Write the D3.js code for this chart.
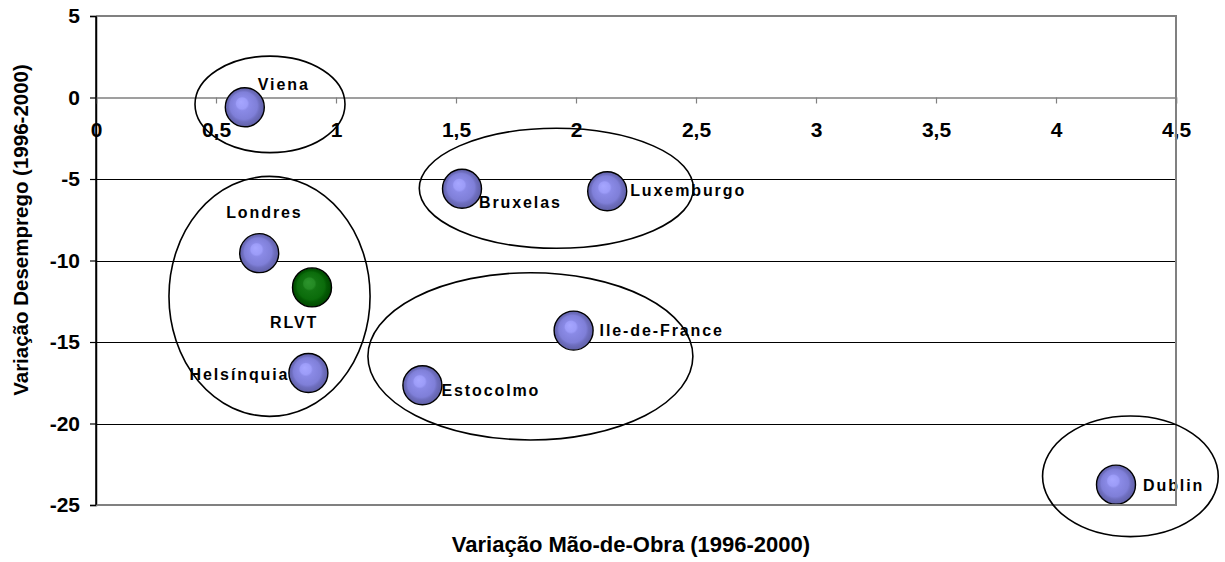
<!DOCTYPE html>
<html>
<head>
<meta charset="utf-8">
<script src="https://cdn.jsdelivr.net/npm/d3@7"></script>
<style>
  html, body { margin: 0; padding: 0; background: #fff; }
  svg { display: block; }
  text { font-family: Arial, "Liberation Sans", sans-serif; font-weight: bold; fill: #000; }
</style>
</head>
<body>
<svg id="chart" width="1225" height="562"></svg>
<script>
// Regions and their changes 1996-2000
const regions = ["Viena", "Londres", "RLVT", "Helsínquia", "Bruxelas", "Luxemburgo", "Ile-de-France", "Estocolmo", "Dublin"];
const labourChange = [0.62, 0.68, 0.90, 0.885, 1.525, 2.13, 1.99, 1.36, 4.25];
const unemploymentChange = [-0.6, -9.55, -11.65, -16.9, -5.6, -5.75, -14.3, -17.65, -23.75];
const highlighted = ["RLVT"];

// Axis ticks
const xTicks = [0, 0.5, 1, 1.5, 2, 2.5, 3, 3.5, 4, 4.5];
const yTicks = [5, 0, -5, -10, -15, -20, -25];

// Cluster outlines (centre and half-extent, in data units)
const clusterCx = [0.725, 0.723, 1.918, 1.81, 4.31];
const clusterCy = [-0.42, -12.2, -5.57, -15.88, -23.24];
const clusterRx = [0.3125, 0.419, 0.571, 0.677, 0.366];
const clusterRy = [2.96, 7.36, 3.68, 5.13, 3.70];

const xTitle = "Variação Mão-de-Obra (1996-2000)";
const yTitle = "Variação Desemprego (1996-2000)";

const svg = d3.select("#chart");
const plot = { left: 96, right: 1176, top: 16, bottom: 505 };

const x = d3.scaleLinear().domain([0, 4.5]).range([plot.left, plot.right]);
const y = d3.scaleLinear().domain([-25, 5]).range([plot.bottom, plot.top]);
const fmt = d => String(d).replace(".", ",");
const FONT = "Arial, 'Liberation Sans', sans-serif";

// Bubble gradients
const defs = svg.append("defs");
function bubbleGradient(id, stops) {
  const g = defs.append("radialGradient").attr("id", id)
    .attr("cx", "50%").attr("cy", "50%").attr("r", "50%")
    .attr("fx", "40%").attr("fy", "36%");
  stops.forEach(s => g.append("stop").attr("offset", s[0]).attr("stop-color", s[1]));
}
bubbleGradient("blueBall", [["0%", "#a6a6ff"], ["28%", "#9c9cf8"], ["36%", "#8a8ae6"], ["70%", "#7f7fd8"], ["80%", "#6f6fc0"], ["100%", "#6060a6"]]);
bubbleGradient("greenBall", [["0%", "#2c942c"], ["28%", "#248a24"], ["36%", "#137513"], ["70%", "#0b6c0b"], ["80%", "#045a04"], ["100%", "#004800"]]);

// Horizontal gridlines
svg.append("g").selectAll("line")
  .data(yTicks.filter(d => d !== 0 && d !== 5 && d !== -25))
  .join("line")
  .attr("x1", plot.left).attr("x2", plot.right)
  .attr("y1", d => Math.round(y(d)) + 0.5).attr("y2", d => Math.round(y(d)) + 0.5)
  .attr("stroke", "#000").attr("stroke-width", 1);

function styleTickText(sel) {
  sel.style("font-size", "21px").style("font-family", FONT).style("font-weight", "bold")
    .attr("fill", "#000");
}

// Y axis
const yAxis = svg.append("g").attr("transform", `translate(${plot.left},0)`)
  .call(d3.axisLeft(y).tickValues(yTicks).tickSize(6).tickPadding(10).tickFormat(fmt));
yAxis.select(".domain").attr("stroke", "#000").attr("stroke-width", 1.5);
yAxis.selectAll(".tick line").attr("stroke", "#000").attr("stroke-width", 1.2);
yAxis.selectAll(".tick text").call(styleTickText);

// X axis along zero
const xAxis = svg.append("g").attr("transform", `translate(0,${y(0)})`)
  .call(d3.axisBottom(x).tickValues(xTicks).tickSize(6).tickPadding(18.5).tickFormat(fmt));
xAxis.select(".domain").attr("stroke", "#808080").attr("stroke-width", 1.5);
xAxis.selectAll(".tick line").attr("stroke", "#808080").attr("stroke-width", 1.2);
xAxis.selectAll(".tick text").call(styleTickText);

// Bubbles
const pts = regions.map((r, i) => ({ name: r, lx: labourChange[i], uy: unemploymentChange[i] }));
svg.append("g").selectAll("circle")
  .data(pts).join("circle")
  .attr("cx", d => x(d.lx)).attr("cy", d => y(d.uy)).attr("r", 19.5)
  .attr("fill", d => highlighted.includes(d.name) ? "url(#greenBall)" : "url(#blueBall)")
  .attr("stroke", "#000").attr("stroke-width", 1.4);

// Label placement next to each bubble
const labelPlace = {
  "Viena": [13, -17, "start"],
  "Londres": [-33, -35, "start"],
  "RLVT": [-42, 41, "start"],
  "Helsínquia": [-19, 7, "end"],
  "Bruxelas": [17, 19, "start"],
  "Luxemburgo": [23, 5, "start"],
  "Ile-de-France": [26, 5, "start"],
  "Estocolmo": [19, 11, "start"],
  "Dublin": [27, 6, "start"]
};
svg.append("g").selectAll("text")
  .data(pts).join("text")
  .attr("x", d => x(d.lx) + labelPlace[d.name][0])
  .attr("y", d => y(d.uy) + labelPlace[d.name][1])
  .attr("text-anchor", d => labelPlace[d.name][2])
  .style("font-size", "16px").style("letter-spacing", "1.9px")
  .text(d => d.name);

// Plot frame (top, right, bottom)
svg.append("path")
  .attr("d", `M${plot.left},${plot.top}H${plot.right}V${plot.bottom}H${plot.left}`)
  .attr("fill", "none").attr("stroke", "#808080").attr("stroke-width", 2);
svg.append("line")
  .attr("x1", plot.left).attr("x2", plot.left).attr("y1", plot.top).attr("y2", plot.bottom)
  .attr("stroke", "#000").attr("stroke-width", 1.5);

// Cluster outlines
svg.append("g").selectAll("ellipse")
  .data(clusterCx.map((c, i) => ({ cx: c, cy: clusterCy[i], rx: clusterRx[i], ry: clusterRy[i] })))
  .join("ellipse")
  .attr("cx", d => x(d.cx)).attr("cy", d => y(d.cy))
  .attr("rx", d => x(d.rx) - x(0)).attr("ry", d => y(0) - y(d.ry))
  .attr("fill", "none").attr("stroke", "#000").attr("stroke-width", 1.6);

// Axis titles
svg.append("text")
  .attr("x", (plot.left + plot.right) / 2 - 5).attr("y", 552)
  .attr("text-anchor", "middle").style("font-size", "22px")
  .text(xTitle);
svg.append("text")
  .attr("transform", `translate(28,${230}) rotate(-90)`)
  .attr("text-anchor", "middle").style("font-size", "20.5px")
  .text(yTitle);
</script>
</body>
</html>
